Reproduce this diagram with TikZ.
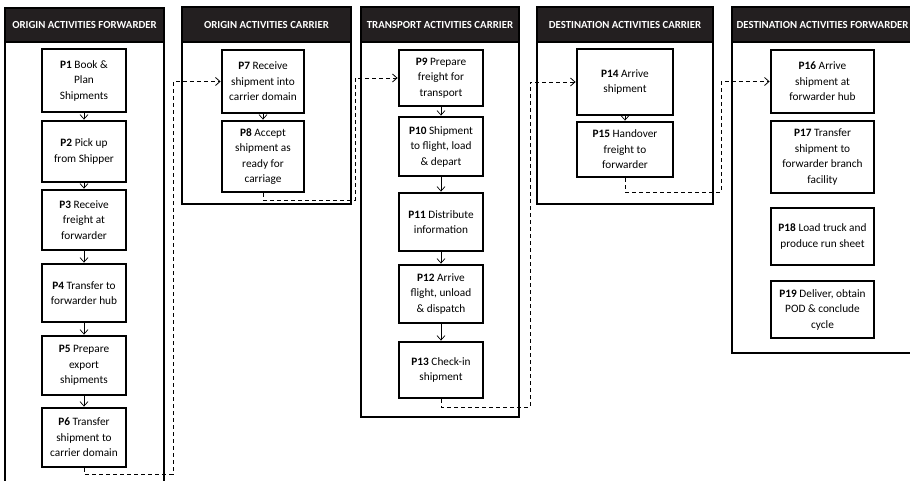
\documentclass[tikz,border=0pt]{standalone}
\usepackage{fontspec}
\setmainfont{Carlito}
\usetikzlibrary{arrows.meta}
\definecolor{hdr}{HTML}{231F20}
\begin{document}
\begin{tikzpicture}[x=1pt,y=-1pt,
  lanebox/.style={draw=black,line width=1.1pt},
  headbar/.style={fill=hdr,draw=black,line width=1.1pt},
  htext/.style={text=white,inner sep=0pt,font=\fontsize{10.8}{12}\selectfont\bfseries},
  pbox/.style={draw=black,line width=2.8pt,fill=white,align=center,inner sep=0pt,
    font=\fontsize{11.3}{15.5}\selectfont},
  flow/.style={-{Straight Barb[length=4.5pt,width=8pt]},line width=0.7pt},
  hand/.style={dash pattern=on 4pt off 3pt,-{Straight Barb[length=4.5pt,width=8pt]},line width=0.8pt}
]
\useasboundingbox (0,0) rectangle (910,481);
% lanes
\draw[lanebox] (5,8) rectangle (164,495);
\draw[lanebox] (182,7) rectangle (351,204);
\draw[lanebox] (361,7) rectangle (519,417);
\draw[lanebox] (537,7) rectangle (713,204);
\draw[lanebox] (732,7) rectangle (913,353);
\draw[headbar] (5,8) rectangle (164,42);
\draw[headbar] (182,7) rectangle (351,42);
\draw[headbar] (361,7) rectangle (519,42);
\draw[headbar] (537,7) rectangle (713,42);
\draw[headbar] (732,7) rectangle (913,42);
\node[htext] (h1) at (84.5,25) {ORIGIN ACTIVITIES FORWARDER};
\node[htext] (h2) at (266.5,24.5) {ORIGIN ACTIVITIES CARRIER};
\node[htext] (h3) at (440,24.5) {TRANSPORT ACTIVITIES CARRIER};
\node[htext] (h4) at (625,24.5) {DESTINATION ACTIVITIES CARRIER};
\node[htext] (h5) at (822.5,24.5) {DESTINATION ACTIVITIES FORWARDER};
% lane 1
\node[pbox,minimum width=84pt,minimum height=63pt] (p1) at (84,80.5) {\textbf{P1} Book \&\\Plan\\Shipments};
\node[pbox,minimum width=84pt,minimum height=61pt] (p2) at (84,151.5) {\textbf{P2} Pick up\\from Shipper};
\node[pbox,minimum width=84pt,minimum height=60pt] (p3) at (84,220) {\textbf{P3} Receive\\freight at\\forwarder};
\node[pbox,minimum width=84pt,minimum height=58pt] (p4) at (84,293) {\textbf{P4} Transfer to\\forwarder hub};
\node[pbox,minimum width=84pt,minimum height=59pt] (p5) at (84,365.5) {\textbf{P5} Prepare\\export\\shipments};
\node[pbox,minimum width=84pt,minimum height=59pt] (p6) at (84,437.5) {\textbf{P6} Transfer\\shipment to\\carrier domain};
% lane 2
\node[pbox,minimum width=82pt,minimum height=63pt] (p7) at (263,81.5) {\textbf{P7} Receive\\shipment into\\carrier domain};
\node[pbox,minimum width=82pt,minimum height=71pt] (p8) at (263,156.5) {\textbf{P8} Accept\\shipment as\\ready for\\carriage};
% lane 3
\node[pbox,minimum width=84pt,minimum height=56pt] (p9) at (441,78) {\textbf{P9} Prepare\\freight for\\transport};
\node[pbox,minimum width=84pt,minimum height=59pt] (p10) at (441,146.5) {\textbf{P10} Shipment\\to flight, load\\\& depart};
\node[pbox,minimum width=84pt,minimum height=58pt] (p11) at (441,222) {\textbf{P11} Distribute\\information};
\node[pbox,minimum width=84pt,minimum height=58pt] (p12) at (441,294) {\textbf{P12} Arrive\\flight, unload\\\& dispatch};
\node[pbox,minimum width=84pt,minimum height=56pt] (p13) at (441,370) {\textbf{P13} Check-in\\shipment};
% lane 4
\node[pbox,minimum width=96pt,minimum height=66pt] (p14) at (625,82) {\textbf{P14} Arrive\\shipment};
\node[pbox,minimum width=96pt,minimum height=55pt] (p15) at (625,149.5) {\textbf{P15} Handover\\freight to\\forwarder};
% lane 5
\node[pbox,minimum width=103pt,minimum height=63pt] (p16) at (822.5,81.5) {\textbf{P16} Arrive\\shipment at\\forwarder hub};
\node[pbox,minimum width=103pt,minimum height=72pt] (p17) at (822.5,157) {\textbf{P17} Transfer\\shipment to\\forwarder branch\\facility};
\node[pbox,minimum width=103pt,minimum height=57pt] (p18) at (822.5,236.5) {\textbf{P18} Load truck and\\produce run sheet};
\node[pbox,minimum width=103pt,minimum height=57pt] (p19) at (822.5,309.5) {\textbf{P19} Deliver, obtain\\POD \& conclude\\cycle};
% flows within lanes
\draw[flow] (p1) -- (p2);
\draw[flow] (p2) -- (p3);
\draw[flow] (p3) -- (p4);
\draw[flow] (p4) -- (p5);
\draw[flow] (p5) -- (p6);
\draw[flow] (p7) -- (p8);
\draw[flow] (p9) -- (p10);
\draw[flow] (p10) -- (p11);
\draw[flow] (p11) -- (p12);
\draw[flow] (p12) -- (p13);
\draw[flow] (p14) -- (p15);
% hand-overs between lanes
\coordinate (d1) at (173,474);
\coordinate (d2) at (355,200);
\coordinate (d3) at (530,407);
\coordinate (d4) at (721,192);
\draw[hand] (p6.south) |- (d1) |- (p7.west);
\draw[hand] (p8.south) |- (d2) |- (p9.west);
\draw[hand] (p13.south) |- (d3) |- (p14.west);
\draw[hand] (p15.south) |- (d4) |- (p16.west);
\end{tikzpicture}
\end{document}
